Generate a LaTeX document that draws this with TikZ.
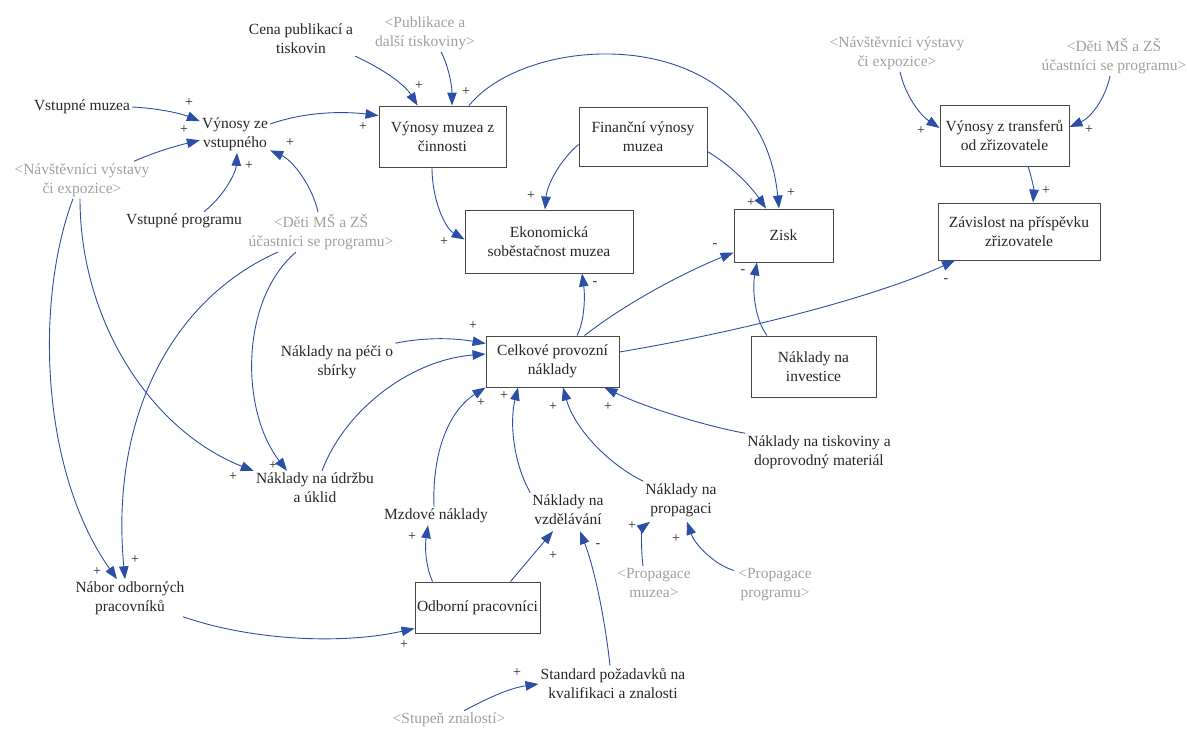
\documentclass[tikz,border=0pt]{standalone}
\usepackage{fontspec}
\setmainfont{Liberation Serif}
\usetikzlibrary{arrows.meta,calc}
\definecolor{arrc}{HTML}{2C4FA6}
\definecolor{txtc}{HTML}{262626}
\definecolor{grayc}{HTML}{A0A0A0}
\definecolor{boxc}{HTML}{474747}
\begin{document}
\begin{tikzpicture}[x=1pt,y=1pt,
  every node/.style={font=\fontsize{15.5}{19}\selectfont, text=txtc, align=center, inner sep=2pt},
  box/.style={draw=boxc, line width=0.9pt, fill=white, inner sep=0pt},
  ghost/.style={text=grayc},
  pol/.style={font=\fontsize{14}{14}\selectfont, text=txtc, inner sep=0pt},
  arr/.style={draw=arrc, line width=0.9pt, -{Triangle[length=13pt,width=9.5pt]}}
]
\useasboundingbox (0,0) rectangle (1187,-731);
% boxes
\node[box, minimum width=127, minimum height=61] (vmc) at (442.5,-136.5) {Výnosy muzea z\\činnosti};
\node[box, minimum width=128, minimum height=59] (fin) at (643,-136.5) {Finanční výnosy\\muzea};
\node[box, minimum width=168, minimum height=63] (eko) at (549,-241.5) {Ekonomická\\soběstačnost muzea};
\node[box, minimum width=99, minimum height=53] (zisk) at (783.5,-235.5) {Zisk};
\node[box, minimum width=129, minimum height=61] (vzt) at (1004.5,-135.5) {Výnosy z transferů\\od zřizovatele};
\node[box, minimum width=162, minimum height=57] (zav) at (1019,-231.5) {Závislost na příspěvku\\zřizovatele};
\node[box, minimum width=133, minimum height=51] (cel) at (552.5,-361.5) {Celkové provozní\\náklady};
\node[box, minimum width=125, minimum height=61] (inv) at (813.5,-366.5) {Náklady na\\investice};
\node[box, minimum width=125, minimum height=51] (odb) at (477.5,-607.5) {Odborní pracovníci};
% text variables
\node (vm) at (82,-107) {Vstupné muzea};
\node (vzv) at (235,-134) {Výnosy ze\\vstupného};
\node[ghost] (navL) at (82,-180) {<Návštěvníci výstavy\\či expozice>};
\node (vp) at (184,-221) {Vstupné programu};
\node[ghost] (detiL) at (321,-232) {<Děti MŠ a ZŠ\\účastníci se programu>};
\node (cena) at (301,-39) {Cena publikací a\\tiskovin};
\node[ghost] (pub) at (425,-33) {<Publikace a\\další tiskoviny>};
\node[ghost] (navR) at (897,-53) {<Návštěvníci výstavy\\či expozice>};
\node[ghost] (detiR) at (1114,-56) {<Děti MŠ a ZŠ\\účastníci se programu>};
\node (pece) at (337,-362) {Náklady na péči o\\sbírky};
\node (udr) at (315,-488) {Náklady na údržbu\\a úklid};
\node (nabor) at (130,-598) {Nábor odborných\\pracovníků};
\node (mzd) at (436,-516) {Mzdové náklady};
\node (vzd) at (568,-510) {Náklady na\\vzdělávání};
\node (prop) at (681,-500) {Náklady na\\propagaci};
\node (tisk) at (819,-452) {Náklady na tiskoviny a\\doprovodný materiál};
\node[ghost] (pm) at (654,-583) {<Propagace\\muzea>};
\node[ghost] (pp) at (775,-585) {<Propagace\\programu>};
\node (std) at (613,-683) {Standard požadavků na\\kvalifikaci a znalosti};
\node[ghost] (stup) at (449,-720) {<Stupeň znalostí>};
% connectors
\draw[arr] (vm.east) .. controls (155,-108) and (180,-113) .. (vzv.160);
\draw[arr] ($(navL.north)+(52,0)$) .. controls (160,-150) and (180,-145) .. (vzv.190);
\draw[arr] ($(vp.north)+(20,0)$) .. controls (225,-195) and (236,-172) .. ($(vzv.south)+(2,0)$);
\draw[arr] ($(detiL.north)+(-3,0)$) .. controls (312,-185) and (292,-160) .. (vzv.-25);
\draw[arr] ($(vzv.east)+(0,10)$) .. controls (310,-110) and (350,-112) .. ($(vmc.north west)+(0,-10)$);
\draw[arr] (cena.south east) .. controls (385,-70) and (405,-85) .. ($(vmc.north west)+(39,0)$);
\draw[arr] ($(pub.south)+(16,0)$) .. controls (448,-65) and (452,-85) .. ($(vmc.north)+(9.5,0)$);
\draw[arr] ($(vmc.north)+(26.5,0)$) .. controls (530,-30) and (760,-20) .. ($(zisk.north)+(-4.5,0)$);
\draw[arr] ($(fin.east)+(0,-15)$) .. controls (730,-165) and (750,-185) .. ($(zisk.north)+(-17.5,0)$);
\draw[arr] ($(fin.west)+(0,-8)$) .. controls (560,-160) and (547,-185) .. ($(eko.north)+(-4,0)$);
\draw[arr] ($(vmc.south)+(-10.5,0)$) .. controls (432,-200) and (445,-228) .. ($(eko.west)+(0,2)$);
\draw[arr] ($(cel.north)+(24.5,0)$) .. controls (585,-320) and (585,-295) .. ($(eko.south)+(33,0)$);
\draw[arr] ($(cel.north)+(32,0)$) .. controls (630,-300) and (690,-270) .. ($(zisk.west)+(0,-17)$);
\draw[arr] ($(inv.north)+(-46.5,0)$) .. controls (755,-320) and (752,-290) .. ($(zisk.south)+(-26.5,0)$);
\draw[arr] ($(cel.east)+(0,9.5)$) .. controls (750,-330) and (880,-295) .. ($(zav.south)+(-64,0)$);
\draw[arr] ($(vzt.south)+(23.5,0)$) .. controls (1032,-178) and (1034,-190) .. ($(zav.north)+(14,0)$);
\draw[arr] ($(navR.south)+(3,0)$) .. controls (905,-95) and (920,-115) .. ($(vzt.west)+(0,7.5)$);
\draw[arr] ($(detiR.south)+(-4,0)$) .. controls (1105,-100) and (1090,-118) .. ($(vzt.east)+(0,8.5)$);
\draw[arr] (pece.north east) .. controls (430,-336) and (460,-339) .. ($(cel.west)+(0,18)$);
\draw[arr] ($(udr.north)+(7,0)$) .. controls (345,-410) and (410,-360) .. ($(cel.west)+(0,7.5)$);
\draw[arr] ($(mzd.north)+(-2,0)$) .. controls (432,-450) and (450,-410) .. (cel.south west);
\draw[arr] (vzd.north west) .. controls (512,-460) and (510,-420) .. ($(cel.south)+(-34.5,0)$);
\draw[arr] (prop.north west) .. controls (610,-465) and (575,-430) .. ($(cel.south)+(10.5,0)$);
\draw[arr] (tisk.north west) .. controls (700,-425) and (640,-405) .. ($(cel.south east)+(-15,0)$);
\draw[arr] ($(detiL.south)+(-25,0)$) .. controls (240,-300) and (240,-410) .. ($(udr.north)+(-28,0)$);
\draw[arr] ($(navL.south)+(-2,0)$) .. controls (80,-320) and (150,-430) .. ($(udr.west)+(0,17)$);
\draw[arr] ($(navL.south)+(-9,0)$) .. controls (35,-300) and (40,-470) .. ($(nabor.north)+(-13,0)$);
\draw[arr] ($(detiL.south)+(-43,0)$) .. controls (170,-300) and (110,-420) .. ($(nabor.north)+(-5,0)$);
\draw[arr] ($(nabor.south)+(53,0)$) .. controls (250,-640) and (340,-645) .. ($(odb.west)+(0,-21)$);
\draw[arr] ($(odb.north west)+(18,0)$) .. controls (425,-565) and (425,-545) .. ($(mzd.south)+(-8,0)$);
\draw[arr] ($(odb.north east)+(-30,0)$) -- ($(vzd.south)+(-15,-4)$);
\draw[arr] ($(std.north)+(-3,0)$) .. controls (605,-620) and (595,-570) .. ($(vzd.south)+(12,-4)$);
\draw[arr] ($(pm.north)+(-11,0)$) .. controls (640,-540) and (643,-527) .. ($(prop.south)+(-31,-3)$);
\draw[arr] ($(pp.north west)+(-2,-4)$) .. controls (715,-565) and (695,-545) .. ($(prop.south)+(6,-3)$);
\draw[arr] ($(stup.north)+(15,0)$) .. controls (490,-697) and (510,-688) .. ($(std.west)+(0,-1)$);
% polarities
\node[pol] (p1) at (189,-103) {+};
\node[pol] (p2) at (184,-130) {+};
\node[pol] (p3) at (249,-166) {+};
\node[pol] (p4) at (290,-143) {+};
\node[pol] (p5) at (363,-127) {+};
\node[pol] (p6) at (419,-86) {+};
\node[pol] (p7) at (466,-92) {+};
\node[pol] (p8) at (791,-193) {+};
\node[pol] (p9) at (751,-203) {+};
\node[pol] (p10) at (531,-196) {+};
\node[pol] (p11) at (444,-242) {+};
\node[pol] (p12) at (595,-284) {-};
\node[pol] (p13) at (715,-246) {-};
\node[pol] (p14) at (743,-272) {-};
\node[pol] (p15) at (946,-281) {-};
\node[pol] (p16) at (1046,-191) {+};
\node[pol] (p17) at (921,-131) {+};
\node[pol] (p18) at (1089,-130) {+};
\node[pol] (p19) at (473,-326) {+};
\node[pol] (p21) at (481,-403) {+};
\node[pol] (p22) at (504,-396) {+};
\node[pol] (p23) at (553,-407) {+};
\node[pol] (p24) at (608,-407) {+};
\node[pol] (p25) at (273,-466) {+};
\node[pol] (p26) at (233,-477) {+};
\node[pol] (p27) at (97,-572) {+};
\node[pol] (p28) at (135,-560) {+};
\node[pol] (p29) at (404,-645) {+};
\node[pol] (p30) at (412,-537) {+};
\node[pol] (p31) at (553,-556) {+};
\node[pol] (p32) at (598,-546) {-};
\node[pol] (p33) at (632,-526) {+};
\node[pol] (p34) at (676,-539) {+};
\node[pol] (p35) at (517,-673) {+};
\end{tikzpicture}
\end{document}
